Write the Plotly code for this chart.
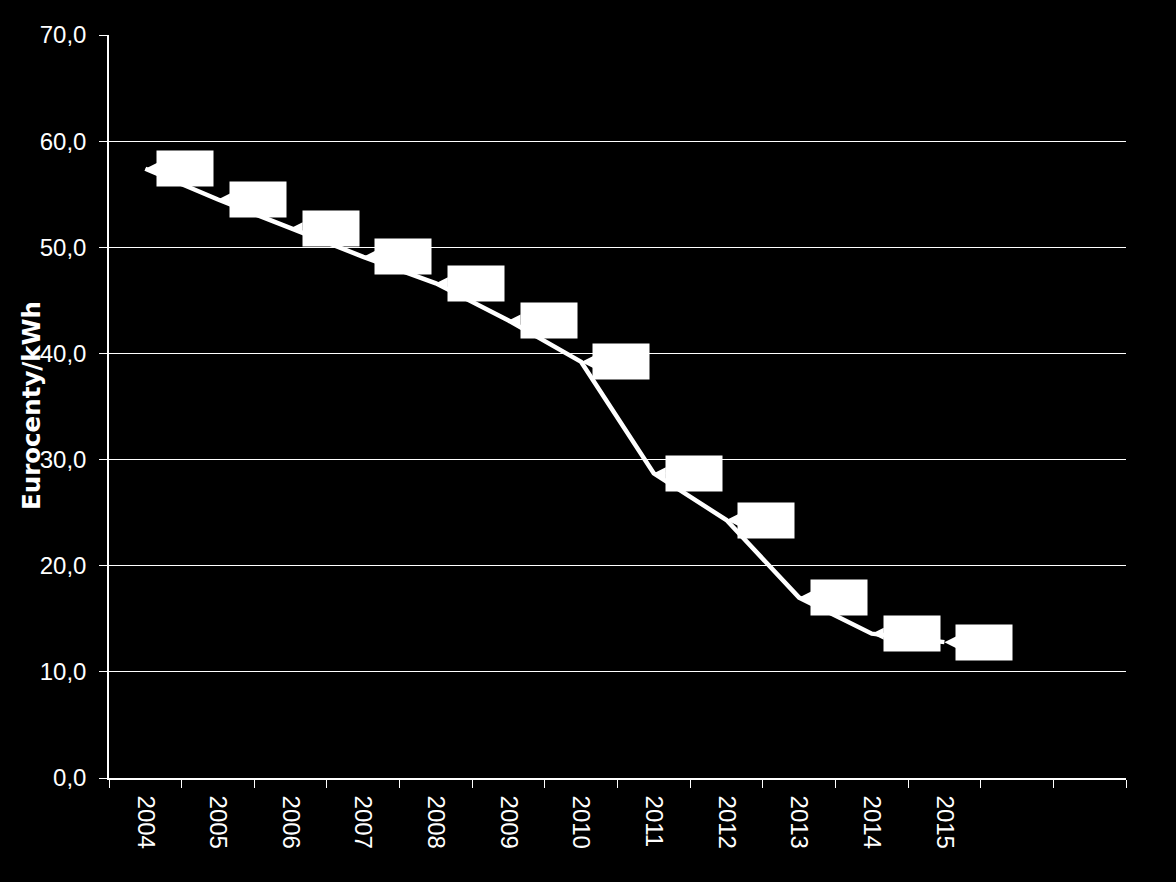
import plotly.graph_objects as go

years = ["2004", "2005", "2006", "2007", "2008", "2009", "2010", "2011", "2012", "2013", "2014", "2015"]
extra_slots = [" ", "  "]
values = [57.4, 54.5, 51.8, 49.1, 46.6, 43.1, 39.2, 28.7, 24.3, 17.0, 13.6, 12.8]
y_ticks = [0, 10, 20, 30, 40, 50, 60, 70]
y_title = "Eurocenty/kWh"

tick_font = dict(family="Liberation Sans, Arial, sans-serif", size=24, color="white")

fig = go.Figure()
fig.add_trace(go.Scatter(
    x=years, y=values, mode="lines",
    line=dict(color="white", width=4.5),
    hoverinfo="skip", showlegend=False,
))

for i, v in enumerate(values):
    fig.add_annotation(
        x=i, y=v, xref="x", yref="y",
        text=f"{v:.1f}".replace(".", ","),
        font=dict(color="white", size=16, family="Liberation Sans"),
        bgcolor="white", borderpad=0, width=56, height=35,
        showarrow=True, arrowhead=2, arrowsize=1.2, arrowwidth=2,
        arrowcolor="white", ax=40, ay=0, standoff=0,
    )

fig.add_annotation(
    x=(31 - 109) / 1017, y=(778 - 406) / 743, xref="paper", yref="paper",
    text=f"<b>{y_title}</b>", textangle=-90, showarrow=False,
    xanchor="center", yanchor="middle",
    font=dict(family="DejaVu Sans", size=24.5, color="white"),
)

fig.update_layout(
    width=1176, height=882,
    margin=dict(l=109, r=50, t=35, b=104),
    paper_bgcolor="black", plot_bgcolor="black",
    separators=",.",
    showlegend=False,
)
fig.update_xaxes(
    type="category", categoryorder="array", categoryarray=years + extra_slots,
    range=[-0.5, len(years) + len(extra_slots) - 0.5],
    tickson="boundaries", ticks="outside", ticklen=8, tickcolor="white", tickwidth=1,
    showgrid=False, showline=True, linecolor="white", linewidth=1.5,
    tickangle=90, tickfont=tick_font, ticklabelstandoff=11,
    zeroline=False,
)
fig.update_yaxes(
    range=[0, 70], tickvals=y_ticks, tickformat=".1f",
    ticks="outside", ticklen=8, tickcolor="white", tickwidth=1,
    showgrid=True, gridcolor="white", gridwidth=1,
    showline=True, linecolor="white", linewidth=1.5,
    tickfont=tick_font, ticklabelstandoff=8, zeroline=False,
)

fig.write_html(
    "out.html",
    config={"displayModeBar": False},
    post_script="document.body.style.margin='0';document.body.style.background='black';",
)
